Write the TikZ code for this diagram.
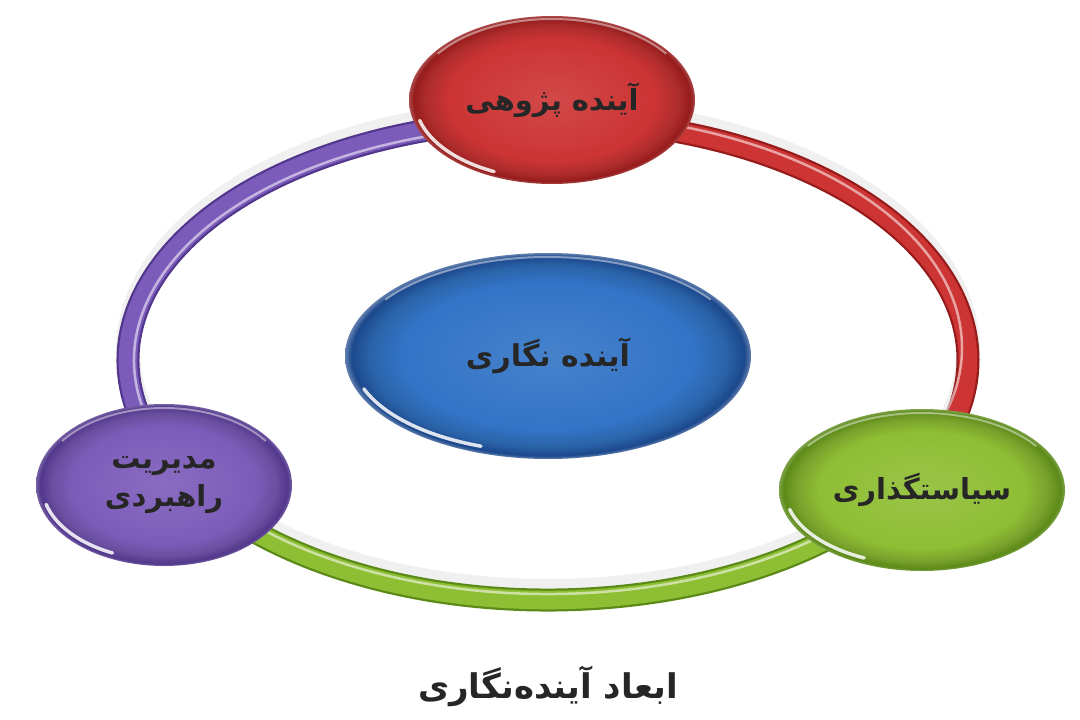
\documentclass[tikz,border=0pt]{standalone}
\usepackage{fontspec}
\newfontfamily\fa[Script=Arabic]{DejaVu Sans}
\TeXXeTstate=1
\usetikzlibrary{shapes.geometric}
\definecolor{redM}{RGB}{205,52,52}
\definecolor{redD}{RGB}{150,28,28}
\definecolor{blueM}{RGB}{50,116,198}
\definecolor{blueD}{RGB}{28,72,140}
\definecolor{greenM}{RGB}{142,190,52}
\definecolor{greenD}{RGB}{92,138,24}
\definecolor{purpM}{RGB}{124,92,186}
\definecolor{purpD}{RGB}{82,55,140}
\pgfdeclareradialshading{ballR}{\pgfpoint{0bp}{0bp}}{color(0bp)=(redM!90!white); color(18bp)=(redM); color(22bp)=(redM!85!black); color(24.2bp)=(redD); color(25bp)=(redD!80!white); color(50bp)=(redD!80!white)}
\pgfdeclareradialshading{ballB}{\pgfpoint{0bp}{0bp}}{color(0bp)=(blueM!90!white); color(18bp)=(blueM); color(22bp)=(blueM!85!black); color(24.2bp)=(blueD); color(25bp)=(blueD!70!white); color(50bp)=(blueD!70!white)}
\pgfdeclareradialshading{ballG}{\pgfpoint{0bp}{0bp}}{color(0bp)=(greenM!90!white); color(18bp)=(greenM); color(22bp)=(greenM!85!black); color(24.2bp)=(greenD); color(25bp)=(greenD!80!white); color(50bp)=(greenD!80!white)}
\pgfdeclareradialshading{ballP}{\pgfpoint{0bp}{0bp}}{color(0bp)=(purpM!90!white); color(18bp)=(purpM); color(22bp)=(purpM!85!black); color(24.2bp)=(purpD); color(25bp)=(purpD!80!white); color(50bp)=(purpD!80!white)}
\tikzset{
  ball/.style={ellipse, inner sep=0pt, shade, text=black!85, align=center,
    font=\fa\bfseries\fontsize{29}{38}\selectfont},
  ringshadow/.style={line width=24, black!6},
  ringdark/.style={line width=23},
  ringmain/.style={line width=18.5},
  ringlight/.style={line width=2.5, white, opacity=0.55},
  gleam/.style={white, line width=3.5, opacity=0.85, line cap=round},
  toprim/.style={white, line width=2, opacity=0.45, line cap=round},
  title/.style={font=\fa\bfseries\fontsize{34}{40}\selectfont, text=black!85}
}
\begin{document}
\begin{tikzpicture}[x=1pt,y=-1pt]
\useasboundingbox[fill=white] (0,0) rectangle (1080,720);
% ring anchor points on the ellipse (centre 548,360; radii 420 x 240)
\coordinate (rR) at (548,120);
\coordinate (rG) at (911.7,480);
\coordinate (rP) at (184.3,480);
% soft shadow
\draw[ringshadow] ([yshift=9]rR) arc[start angle=-90, end angle=270, x radius=420, y radius=240];
% red arc: top -> right node
\draw[ringdark, redD] (rR) arc[start angle=-90, end angle=30, x radius=420, y radius=240];
\draw[ringmain, redM] (rR) arc[start angle=-90, end angle=30, x radius=420, y radius=240];
\draw[ringlight] ([yshift=6]rR) arc[start angle=-90, end angle=30, x radius=414, y radius=234];
% green arc: right -> left node
\draw[ringdark, greenD] (rG) arc[start angle=30, end angle=150, x radius=420, y radius=240];
\draw[ringmain, greenM] (rG) arc[start angle=30, end angle=150, x radius=420, y radius=240];
\draw[ringlight] ([shift={(-5.2,-3)}]rG) arc[start angle=30, end angle=150, x radius=414, y radius=234];
% purple arc: left node -> top
\draw[ringdark, purpD] (rP) arc[start angle=150, end angle=270, x radius=420, y radius=240];
\draw[ringmain, purpM] (rP) arc[start angle=150, end angle=270, x radius=420, y radius=240];
\draw[ringlight] ([shift={(5.2,-3)}]rP) arc[start angle=150, end angle=270, x radius=414, y radius=234];
% nodes
\node[ball, shading=ballR, minimum width=286, minimum height=168] (red) at (552,100) {\beginR آینده پژوهی\endR};
\node[ball, shading=ballB, minimum width=406, minimum height=206, font=\fa\bfseries\fontsize{30}{38}\selectfont] (blue) at (548,356) {\beginR آینده نگاری\endR};
\node[ball, shading=ballG, minimum width=286, minimum height=162] (green) at (922,490) {\beginR سیاستگذاری\endR};
\node[ball, shading=ballP, minimum width=256, minimum height=162] (purple) at (164,485) {\beginR مدیریت\endR\\\beginR راهبردی\endR};
% glossy highlights
\draw[gleam] (red.center) ++(115:137 and 79) arc[start angle=115, end angle=165, x radius=137, y radius=79];
\draw[toprim] (red.center) ++(215:139 and 81) arc[start angle=215, end angle=325, x radius=139, y radius=81];
\draw[gleam] (blue.center) ++(110:196 and 96) arc[start angle=110, end angle=160, x radius=196, y radius=96];
\draw[toprim] (blue.center) ++(215:198 and 99) arc[start angle=215, end angle=325, x radius=198, y radius=99];
\draw[gleam] (green.center) ++(115:137 and 75) arc[start angle=115, end angle=165, x radius=137, y radius=75];
\draw[toprim] (green.center) ++(215:139 and 77) arc[start angle=215, end angle=325, x radius=139, y radius=77];
\draw[gleam] (purple.center) ++(115:122 and 75) arc[start angle=115, end angle=165, x radius=122, y radius=75];
\draw[toprim] (purple.center) ++(215:124 and 77) arc[start angle=215, end angle=325, x radius=124, y radius=77];
% title
\node[title] (caption) at (548,686) {\beginR ابعاد آینده‌نگاری\endR};
\end{tikzpicture}
\end{document}
